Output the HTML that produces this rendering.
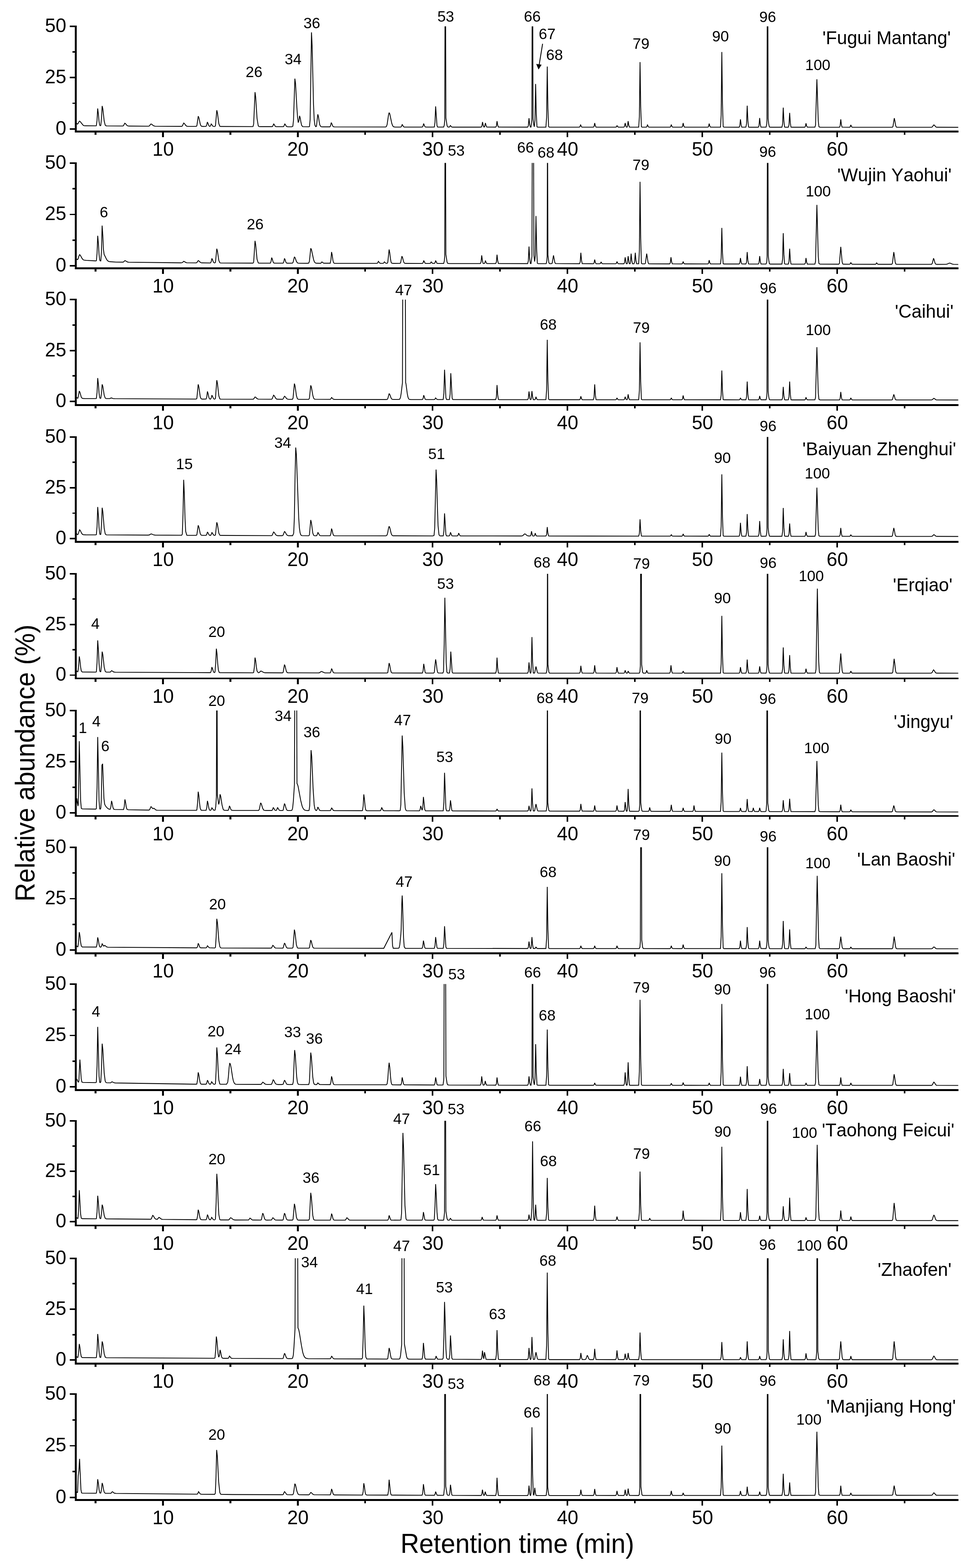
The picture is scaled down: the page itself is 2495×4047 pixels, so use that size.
<!DOCTYPE html><html><head><meta charset="utf-8"><style>html,body{margin:0;padding:0;background:#fff;overflow:hidden}svg{display:block}text{font-family:"Liberation Sans", Arial, sans-serif;fill:#000;font-kerning:none}</style></head><body>
<svg width="2495" height="4047" viewBox="0 0 2495 4047">
<rect width="2495" height="4047" fill="#fff"/>
<g stroke="#000" stroke-width="4.6" fill="none" shape-rendering="crispEdges">
<path d="M195.5 66.0 V341.5 M193.1 339.4 H2473"/>
<path d="M180.2 332.6H194M180.2 200.3H194M180.2 68.0H194" stroke-width="3.8"/>
<path d="M187.2 266.5H194M187.2 134.2H194" stroke-width="3.8"/>
<path d="M420.4 339.4V354.4M768.3 339.4V354.4M1116.2 339.4V354.4M1464.1 339.4V354.4M1812.0 339.4V354.4M2159.9 339.4V354.4M246.4 339.4V348.0M594.3 339.4V348.0M942.2 339.4V348.0M1290.2 339.4V348.0M1638.0 339.4V348.0M1985.9 339.4V348.0M2333.8 339.4V348.0" stroke-width="4.4"/>
<path d="M195.5 418.6 V694.4 M193.1 692.3 H2473"/>
<path d="M180.2 686.1H194M180.2 553.4H194M180.2 420.6H194" stroke-width="3.8"/>
<path d="M187.2 619.7H194M187.2 487.0H194" stroke-width="3.8"/>
<path d="M420.4 692.3V707.3M768.3 692.3V707.3M1116.2 692.3V707.3M1464.1 692.3V707.3M1812.0 692.3V707.3M2159.9 692.3V707.3M246.4 692.3V700.9M594.3 692.3V700.9M942.2 692.3V700.9M1290.2 692.3V700.9M1638.0 692.3V700.9M1985.9 692.3V700.9M2333.8 692.3V700.9" stroke-width="4.4"/>
<path d="M195.5 771.3 V1047.4 M193.1 1045.3 H2473"/>
<path d="M180.2 1035.9H194M180.2 904.6H194M180.2 773.3H194" stroke-width="3.8"/>
<path d="M187.2 970.2H194M187.2 839.0H194" stroke-width="3.8"/>
<path d="M420.4 1045.3V1060.3M768.3 1045.3V1060.3M1116.2 1045.3V1060.3M1464.1 1045.3V1060.3M1812.0 1045.3V1060.3M2159.9 1045.3V1060.3M246.4 1045.3V1053.9M594.3 1045.3V1053.9M942.2 1045.3V1053.9M1290.2 1045.3V1053.9M1638.0 1045.3V1053.9M1985.9 1045.3V1053.9M2333.8 1045.3V1053.9" stroke-width="4.4"/>
<path d="M195.5 1125.8 V1400.4 M193.1 1398.3 H2473"/>
<path d="M180.2 1390.0H194M180.2 1258.9H194M180.2 1127.8H194" stroke-width="3.8"/>
<path d="M187.2 1324.5H194M187.2 1193.3H194" stroke-width="3.8"/>
<path d="M420.4 1398.3V1413.3M768.3 1398.3V1413.3M1116.2 1398.3V1413.3M1464.1 1398.3V1413.3M1812.0 1398.3V1413.3M2159.9 1398.3V1413.3M246.4 1398.3V1406.9M594.3 1398.3V1406.9M942.2 1398.3V1406.9M1290.2 1398.3V1406.9M1638.0 1398.3V1406.9M1985.9 1398.3V1406.9M2333.8 1398.3V1406.9" stroke-width="4.4"/>
<path d="M195.5 1479.0 V1753.1 M193.1 1751.0 H2473"/>
<path d="M180.2 1742.4H194M180.2 1611.7H194M180.2 1481.0H194" stroke-width="3.8"/>
<path d="M187.2 1677.1H194M187.2 1546.3H194" stroke-width="3.8"/>
<path d="M420.4 1751.0V1766.0M768.3 1751.0V1766.0M1116.2 1751.0V1766.0M1464.1 1751.0V1766.0M1812.0 1751.0V1766.0M2159.9 1751.0V1766.0M246.4 1751.0V1759.6M594.3 1751.0V1759.6M942.2 1751.0V1759.6M1290.2 1751.0V1759.6M1638.0 1751.0V1759.6M1985.9 1751.0V1759.6M2333.8 1751.0V1759.6" stroke-width="4.4"/>
<path d="M195.5 1831.8 V2108.1 M193.1 2106.0 H2473"/>
<path d="M180.2 2098.3H194M180.2 1966.1H194M180.2 1833.8H194" stroke-width="3.8"/>
<path d="M187.2 2032.2H194M187.2 1899.9H194" stroke-width="3.8"/>
<path d="M420.4 2106.0V2121.0M768.3 2106.0V2121.0M1116.2 2106.0V2121.0M1464.1 2106.0V2121.0M1812.0 2106.0V2121.0M2159.9 2106.0V2121.0M246.4 2106.0V2114.6M594.3 2106.0V2114.6M942.2 2106.0V2114.6M1290.2 2106.0V2114.6M1638.0 2106.0V2114.6M1985.9 2106.0V2114.6M2333.8 2106.0V2114.6" stroke-width="4.4"/>
<path d="M195.5 2184.8 V2462.3 M193.1 2460.2 H2473"/>
<path d="M180.2 2452.0H194M180.2 2319.4H194M180.2 2186.8H194" stroke-width="3.8"/>
<path d="M187.2 2385.7H194M187.2 2253.1H194" stroke-width="3.8"/>
<path d="M420.4 2460.2V2475.2M768.3 2460.2V2475.2M1116.2 2460.2V2475.2M1464.1 2460.2V2475.2M1812.0 2460.2V2475.2M2159.9 2460.2V2475.2M246.4 2460.2V2468.8M594.3 2460.2V2468.8M942.2 2460.2V2468.8M1290.2 2460.2V2468.8M1638.0 2460.2V2468.8M1985.9 2460.2V2468.8M2333.8 2460.2V2468.8" stroke-width="4.4"/>
<path d="M195.5 2537.8 V2815.3 M193.1 2813.2 H2473"/>
<path d="M180.2 2805.0H194M180.2 2672.4H194M180.2 2539.8H194" stroke-width="3.8"/>
<path d="M187.2 2738.7H194M187.2 2606.1H194" stroke-width="3.8"/>
<path d="M420.4 2813.2V2828.2M768.3 2813.2V2828.2M1116.2 2813.2V2828.2M1464.1 2813.2V2828.2M1812.0 2813.2V2828.2M2159.9 2813.2V2828.2M246.4 2813.2V2821.8M594.3 2813.2V2821.8M942.2 2813.2V2821.8M1290.2 2813.2V2821.8M1638.0 2813.2V2821.8M1985.9 2813.2V2821.8M2333.8 2813.2V2821.8" stroke-width="4.4"/>
<path d="M195.5 2890.8 V3165.2 M193.1 3163.1 H2473"/>
<path d="M180.2 3153.2H194M180.2 3023.0H194M180.2 2892.8H194" stroke-width="3.8"/>
<path d="M187.2 3088.1H194M187.2 2957.9H194" stroke-width="3.8"/>
<path d="M420.4 3163.1V3178.1M768.3 3163.1V3178.1M1116.2 3163.1V3178.1M1464.1 3163.1V3178.1M1812.0 3163.1V3178.1M2159.9 3163.1V3178.1M246.4 3163.1V3171.7M594.3 3163.1V3171.7M942.2 3163.1V3171.7M1290.2 3163.1V3171.7M1638.0 3163.1V3171.7M1985.9 3163.1V3171.7M2333.8 3163.1V3171.7" stroke-width="4.4"/>
<path d="M195.5 3245.6 V3521.3 M193.1 3519.2 H2473"/>
<path d="M180.2 3510.3H194M180.2 3378.9H194M180.2 3247.6H194" stroke-width="3.8"/>
<path d="M187.2 3444.6H194M187.2 3313.3H194" stroke-width="3.8"/>
<path d="M420.4 3519.2V3534.2M768.3 3519.2V3534.2M1116.2 3519.2V3534.2M1464.1 3519.2V3534.2M1812.0 3519.2V3534.2M2159.9 3519.2V3534.2M246.4 3519.2V3527.8M594.3 3519.2V3527.8M942.2 3519.2V3527.8M1290.2 3519.2V3527.8M1638.0 3519.2V3527.8M1985.9 3519.2V3527.8M2333.8 3519.2V3527.8" stroke-width="4.4"/>
<path d="M195.5 3596.0 V3873.4 M193.1 3871.3 H2473"/>
<path d="M180.2 3865.0H194M180.2 3731.5H194M180.2 3598.0H194" stroke-width="3.8"/>
<path d="M187.2 3798.2H194M187.2 3664.8H194" stroke-width="3.8"/>
<path d="M420.4 3871.3V3886.3M768.3 3871.3V3886.3M1116.2 3871.3V3886.3M1464.1 3871.3V3886.3M1812.0 3871.3V3886.3M2159.9 3871.3V3886.3M246.4 3871.3V3879.9M594.3 3871.3V3879.9M942.2 3871.3V3879.9M1290.2 3871.3V3879.9M1638.0 3871.3V3879.9M1985.9 3871.3V3879.9M2333.8 3871.3V3879.9" stroke-width="4.4"/>
</g>
<g font-size="49.5">
<text x="171" y="347.5" text-anchor="end">0</text>
<text x="171" y="215.2" text-anchor="end">25</text>
<text x="171" y="82.9" text-anchor="end">50</text>
<text x="420.9" y="402.3" text-anchor="middle">10</text>
<text x="768.8" y="402.3" text-anchor="middle">20</text>
<text x="1116.7" y="402.3" text-anchor="middle">30</text>
<text x="1464.6" y="402.3" text-anchor="middle">40</text>
<text x="1812.5" y="402.3" text-anchor="middle">50</text>
<text x="2160.4" y="402.3" text-anchor="middle">60</text>
<text x="171" y="701.0" text-anchor="end">0</text>
<text x="171" y="568.2" text-anchor="end">25</text>
<text x="171" y="435.5" text-anchor="end">50</text>
<text x="420.9" y="755.2" text-anchor="middle">10</text>
<text x="768.8" y="755.2" text-anchor="middle">20</text>
<text x="1116.7" y="755.2" text-anchor="middle">30</text>
<text x="1464.6" y="755.2" text-anchor="middle">40</text>
<text x="1812.5" y="755.2" text-anchor="middle">50</text>
<text x="2160.4" y="755.2" text-anchor="middle">60</text>
<text x="171" y="1050.8" text-anchor="end">0</text>
<text x="171" y="919.5" text-anchor="end">25</text>
<text x="171" y="788.2" text-anchor="end">50</text>
<text x="420.9" y="1108.2" text-anchor="middle">10</text>
<text x="768.8" y="1108.2" text-anchor="middle">20</text>
<text x="1116.7" y="1108.2" text-anchor="middle">30</text>
<text x="1464.6" y="1108.2" text-anchor="middle">40</text>
<text x="1812.5" y="1108.2" text-anchor="middle">50</text>
<text x="2160.4" y="1108.2" text-anchor="middle">60</text>
<text x="171" y="1404.9" text-anchor="end">0</text>
<text x="171" y="1273.8" text-anchor="end">25</text>
<text x="171" y="1142.7" text-anchor="end">50</text>
<text x="420.9" y="1461.2" text-anchor="middle">10</text>
<text x="768.8" y="1461.2" text-anchor="middle">20</text>
<text x="1116.7" y="1461.2" text-anchor="middle">30</text>
<text x="1464.6" y="1461.2" text-anchor="middle">40</text>
<text x="1812.5" y="1461.2" text-anchor="middle">50</text>
<text x="2160.4" y="1461.2" text-anchor="middle">60</text>
<text x="171" y="1757.3" text-anchor="end">0</text>
<text x="171" y="1626.6" text-anchor="end">25</text>
<text x="171" y="1495.9" text-anchor="end">50</text>
<text x="420.9" y="1813.9" text-anchor="middle">10</text>
<text x="768.8" y="1813.9" text-anchor="middle">20</text>
<text x="1116.7" y="1813.9" text-anchor="middle">30</text>
<text x="1464.6" y="1813.9" text-anchor="middle">40</text>
<text x="1812.5" y="1813.9" text-anchor="middle">50</text>
<text x="2160.4" y="1813.9" text-anchor="middle">60</text>
<text x="171" y="2113.2" text-anchor="end">0</text>
<text x="171" y="1981.0" text-anchor="end">25</text>
<text x="171" y="1848.7" text-anchor="end">50</text>
<text x="420.9" y="2168.9" text-anchor="middle">10</text>
<text x="768.8" y="2168.9" text-anchor="middle">20</text>
<text x="1116.7" y="2168.9" text-anchor="middle">30</text>
<text x="1464.6" y="2168.9" text-anchor="middle">40</text>
<text x="1812.5" y="2168.9" text-anchor="middle">50</text>
<text x="2160.4" y="2168.9" text-anchor="middle">60</text>
<text x="171" y="2466.9" text-anchor="end">0</text>
<text x="171" y="2334.3" text-anchor="end">25</text>
<text x="171" y="2201.7" text-anchor="end">50</text>
<text x="420.9" y="2523.1" text-anchor="middle">10</text>
<text x="768.8" y="2523.1" text-anchor="middle">20</text>
<text x="1116.7" y="2523.1" text-anchor="middle">30</text>
<text x="1464.6" y="2523.1" text-anchor="middle">40</text>
<text x="1812.5" y="2523.1" text-anchor="middle">50</text>
<text x="2160.4" y="2523.1" text-anchor="middle">60</text>
<text x="171" y="2819.9" text-anchor="end">0</text>
<text x="171" y="2687.3" text-anchor="end">25</text>
<text x="171" y="2554.7" text-anchor="end">50</text>
<text x="420.9" y="2876.1" text-anchor="middle">10</text>
<text x="768.8" y="2876.1" text-anchor="middle">20</text>
<text x="1116.7" y="2876.1" text-anchor="middle">30</text>
<text x="1464.6" y="2876.1" text-anchor="middle">40</text>
<text x="1812.5" y="2876.1" text-anchor="middle">50</text>
<text x="2160.4" y="2876.1" text-anchor="middle">60</text>
<text x="171" y="3168.1" text-anchor="end">0</text>
<text x="171" y="3037.9" text-anchor="end">25</text>
<text x="171" y="2907.7" text-anchor="end">50</text>
<text x="420.9" y="3226.0" text-anchor="middle">10</text>
<text x="768.8" y="3226.0" text-anchor="middle">20</text>
<text x="1116.7" y="3226.0" text-anchor="middle">30</text>
<text x="1464.6" y="3226.0" text-anchor="middle">40</text>
<text x="1812.5" y="3226.0" text-anchor="middle">50</text>
<text x="2160.4" y="3226.0" text-anchor="middle">60</text>
<text x="171" y="3525.2" text-anchor="end">0</text>
<text x="171" y="3393.8" text-anchor="end">25</text>
<text x="171" y="3262.5" text-anchor="end">50</text>
<text x="420.9" y="3582.1" text-anchor="middle">10</text>
<text x="768.8" y="3582.1" text-anchor="middle">20</text>
<text x="1116.7" y="3582.1" text-anchor="middle">30</text>
<text x="1464.6" y="3582.1" text-anchor="middle">40</text>
<text x="1812.5" y="3582.1" text-anchor="middle">50</text>
<text x="2160.4" y="3582.1" text-anchor="middle">60</text>
<text x="171" y="3879.9" text-anchor="end">0</text>
<text x="171" y="3746.4" text-anchor="end">25</text>
<text x="171" y="3612.9" text-anchor="end">50</text>
<text x="420.9" y="3934.2" text-anchor="middle">10</text>
<text x="768.8" y="3934.2" text-anchor="middle">20</text>
<text x="1116.7" y="3934.2" text-anchor="middle">30</text>
<text x="1464.6" y="3934.2" text-anchor="middle">40</text>
<text x="1812.5" y="3934.2" text-anchor="middle">50</text>
<text x="2160.4" y="3934.2" text-anchor="middle">60</text>
</g>
<g stroke="#000" stroke-width="2.1" fill="none" stroke-linejoin="miter" stroke-miterlimit="2">
<clipPath id="c0"><rect x="0" y="68.0" width="2495" height="400"/></clipPath>
<path clip-path="url(#c0)" d="M196.5 317.0l3.3 3.3l1.7 -1.4l1.8 -3.9l1.7 -2.4l1.7 1l7.2 8.9l1.7 1.5l1.8 .5l3.5 .1l25.9 .2l1.7 -.3l1.8 -13.1l1.7 -31.4l1.7 12.8l1.8 20.3l1.7 9.6l1.2 1.7l1.7 -.6l1.8 -18.7l1.7 -31.6l1.7 7.3l3.5 31.2l2.5 10.5l1.8 2l1.7 .5l42 .3l1.7 -.9l3.5 -6.4l1.7 1l3.5 4.3l1.5 1.2l3.5 .9l50.5 .4l1.6 -.2l1.7 -1.2l1.8 -2.7l1.7 -1.7l1.7 .6l5.4 4.2l3.5 1l68.7 .3l1.7 -1.1l3.5 -7.4l1.7 1.1l3.5 5l2.7 2l3.4 .6l21 0l1.7 -2l3.5 -24.3l1.7 3.9l3.5 16.2l1.7 4.2l1.7 1.6l3.5 .5l7.9 -.1l1.8 -3.3l1.7 -8l1.7 3.3l1.8 5.2l1.3 2l1.7 .8l1.8 -1.8l1.7 -4.5l1.7 1.8l1.8 3l1.7 1.4l4 .3l1.7 -1.9l3.5 -40l1.7 7.4l3.5 27.2l2.5 6.4l1.8 .8l81.7 .4l2.2 -.2l1.7 -6.7l3.5 -82.1l1.7 13.1l3.5 54.8l3.1 18.8l1.7 2l3.5 .4l31 0l1.8 -2.1l1.7 -5.3l1.7 2.1l1.8 3.5l1.7 1.6l2.1 .3l17.9 0l1.8 -2.2l1.7 -5.3l1.7 2.2l1.8 3.4l1.7 1.7l3 .3l10.4 .1l2.3 -1.5l1.7 -15.7l3.5 -107l1.7 12.1l3.5 62.6l1.8 25.5l1.7 13.2l1.8 -4.9l1.7 -12.5l1.7 5.9l1.8 10.7l1.7 7.7l2.9 3.7l15.7 .3l1.7 -.8l1.7 -18.1l3.5 -224.8l1.7 36l3.5 149.8l1.8 39.8l1.8 13.9l2.3 3.9l1.7 -1.1l3.5 -30.9l1.7 6.2l1.8 12.4l1.7 9.1l2.9 4.4l3.5 .3l19.6 0l1.8 -3.2l1.7 -7.7l1.7 3.1l1.8 5l1.7 2.4l3 .5l132.3 .2l1.7 -1.2l1.9 -5l3.5 -24.2l1.7 -6.5l1.7 3.1l5.1 24.2l1.8 5.2l1.7 2.9l1.7 1.2l3.5 .6l14.7 0l1.8 -1.8l1.7 -5.2l3.5 6l1.7 .9l46.6 .1l1.8 -2.1l1.7 -6.9l3.5 8.1l1.7 .9l22.3 -.1l1.8 -11.7l1.7 -41.6l3.5 49.3l1.7 4l15.6 .1l1.7 -6.1l1 -13.3l.7 -260.6l1.6 0l.7 256.7l3 19.4l1.7 3.5l3.3 .5l1.8 -.9l1.7 -3.2l3.5 3.8l1.7 .3l74.3 0l1.8 -2.4l1.7 -10.7l1.7 8.1l1.8 4.7l1.7 -.2l2.3 -10l1.7 6.6l1.8 3.7l22.9 .2l1.8 -2.6l1.7 -12.9l1.7 10.3l1.8 5l75.5 .2l1.8 -3.7l1.7 -19.4l1.7 16l1.8 6.9l1.7 .1l2.2 -18.4l.7 -261.6l1.6 0l.7 257.8l1.5 13.9l1.7 7.6l1.8 -17.1l1.7 -93.5l1.7 76.9l1.8 33.5l1.7 1.1l21.3 -.1l1.8 -25.1l1.7 -131.2l1.7 107.8l1.8 47.1l1.7 1.5l77.3 0l1.8 -1.1l1.7 -5.6l1.7 4.6l1.8 2l29.4 .1l1.8 -1.7l1.7 -8.9l1.7 7.3l1.8 3.2l50.6 .1l1.8 -.6l1.7 -3.6l1.7 2.9l1.8 1.3l14 0l1.8 -1.7l1.7 -8.9l2.5 9.7l1 .9l.7 0l1 -.3l.8 -2.2l1.7 -13.1l1.7 10.8l1.8 4.7l23.7 .1l1.8 -26.9l1.7 -141l1.7 115.8l1.8 50.6l1.7 1.6l10.5 0l1.8 -1.1l1.7 -5.7l1.7 4.7l1.8 2l54.4 .1l1.8 -1.1l1.7 -5.7l1.7 4.7l1.8 2l23.6 .1l1.8 -1.7l1.7 -9l1.7 7.4l1.8 3.2l60.2 .1l1.8 -1.5l1.7 -7.8l1.7 6.4l1.8 2.9l25.6 -.1l1.8 -31l1.7 -162.9l1.7 133.8l1.8 58.5l1.7 1.7l39.4 .1l1.8 -3.3l1.7 -17.1l1.7 14l1.8 6.2l10.4 .1l1.8 -8.9l1.7 -46.6l1.7 38.3l1.8 16.8l1.7 .5l23.4 0l1.8 -3.8l1.7 -19.9l1.7 16.3l1.8 7.2l13 .1l1.8 -8.4l.6 -10.1l.7 -261.8l1.6 0l.7 258l1.6 14.8l1.7 7l1.8 .6l30.4 0l1.8 -8.1l1.7 -42.5l1.7 34.9l1.8 15.2l1.7 .5l7.8 0l1.8 -5.9l1.7 -31.1l1.7 25.5l1.8 11.2l1.7 .3l33.5 0l1.8 -1.6l1.7 -8.5l1.7 7l1.8 3l19.4 0l1.7 -5.5l3.5 -118.2l3.5 106.7l1.7 15.7l2.8 1.5l50.1 0l1.8 -3.3l1.7 -17.2l1.7 14.1l1.8 6.2l19 .2l1.8 -1l1.7 -5.1l1.7 4.2l1.8 1.8l103.4 .1l1.7 -1.8l3.5 -21.7l1.7 7.9l1.8 11l1.7 4l1.5 .6l88.7 0l1.5 -.2l1.7 -1.3l1.8 -2.8l1.7 -1.8l1.7 1.2l3.5 4.1l2 .7l55.7 .2"/>
<clipPath id="c1"><rect x="0" y="420.6" width="2495" height="400"/></clipPath>
<path clip-path="url(#c1)" d="M196.5 668.0l3.6 2.1l1.7 -2.8l1.8 -6.1l1.7 -3.9l1.7 1.2l5.2 9.3l1.7 2l1.7 1.1l1.8 .6l5.2 .5l24.3 1.4l1.7 -.4l1.8 -18.9l1.7 -45.5l1.7 18.6l1.8 29.6l1.7 14l1.1 2.4l1.7 .1l1.7 -23.3l1.7 -67.8l1.8 25.5l1.7 37.3l1.7 11.6l6.1 12.4l1.7 2.6l1.8 1.8l1.7 1.1l3.5 .9l15.7 1.1l17.9 .1l1.7 -.5l3.5 -3.5l1.7 .6l3.5 2.4l3 1l1.7 .2l134 1.6l2.5 -.1l1.7 -.4l3.5 -3.4l1.7 .5l3.5 2.3l2.8 .9l22.6 .3l1.7 0l1.7 -.8l3.5 -5.1l1.7 .8l3.5 3.4l1.8 1.1l1.7 .5l21.4 .3l1.7 -.1l1.8 -3.4l1.7 -8.3l1.7 3.4l1.8 5.3l1.7 2.5l2.3 .6l1.7 -1.6l3.5 -35.2l1.7 6.5l3.5 23.9l2.5 5.7l1.8 .7l83.9 .4l1.7 -2.6l3.5 -54.9l1.7 10.1l3.5 37.3l3.1 9.5l1.7 .6l29.5 .1l1.8 -4.2l1.7 -10l1.7 4.1l1.8 6.5l1.7 3l1.9 .7l22.4 0l1.8 -3.6l1.7 -8.8l1.7 3.6l1.8 5.7l1.7 2.6l1.9 .6l13.3 -.1l1.7 -2.1l3.5 -14.2l1.7 2.1l3.5 9.6l2.4 3.6l1.8 .9l3.4 .3l20.9 .1l3.3 -.5l1.7 -4.9l3.5 -33.4l1.7 3l5.5 25.7l1.7 5.2l1.8 2.9l1.7 1.3l1.7 .5l11.1 .2l1.8 -1.1l1.7 -2.5l3.5 2.7l1.7 .7l16.3 0l1.8 -8.5l1.7 -20.5l1.7 8.3l1.8 13.3l1.7 6.2l2.2 1.4l109.9 .2l1.8 -1.4l1.7 -3.9l3.5 4.3l1.7 .9l6.7 .1l1.8 -1l1.7 -2.8l3.5 3.2l1.7 .6l1.9 -.1l1.7 -2.6l3.5 -33.2l1.7 8.9l1.8 15.5l1.7 8.8l1.6 2.3l3.5 .5l17.5 -.1l1.7 -1.4l3.5 -17.3l1.7 3.8l1.8 7.4l1.7 5.2l1.7 1.9l1.7 .5l44.2 .1l1.8 -1.7l1.7 -5.7l3.5 6.7l1.7 .7l10.5 0l1.8 -.9l1.7 -3.1l3.5 3.7l4.5 .3l1.8 -1.6l1.7 -5.8l3.5 6.9l1.7 .5l15.6 0l1.7 -7.1l.9 -12.3l.7 -260l1.6 0l.7 256.1l3.1 19.8l1.7 3.2l3.5 .4l80.7 .1l1.8 -3.8l1.7 -17.2l1.7 12.9l1.8 7.7l.9 .4l1.7 0l1.8 -1.3l1.7 -6.3l1.7 4.8l1.8 2.7l22.9 .2l1.8 -3.9l1.7 -19.1l1.7 15.3l1.8 7.4l1.7 .3l73.8 .1l1.8 -7.1l1.7 -37.1l1.7 30.5l1.8 13.3l1.7 .3l2.4 -18.5l.7 -261.2l3.6 0l.7 257.5l1.9 17.1l1.8 -14.8l1.7 -102.9l1.7 84.8l1.8 37l1.7 1.2l21.2 -.1l1.7 -7.8l.7 -10.7l.7 -261.3l.6 0l.7 257.6l2.5 20.1l1.8 2.1l4.9 .1l1.7 -.9l3.5 -20.4l3.5 18.4l1.7 2.7l61.9 .3l1.8 -4.5l1.7 -23.8l1.7 19.6l1.8 8.5l28.7 .3l1.8 -1.7l1.7 -9l1.7 7.4l1.8 3.2l9.5 .2l1.8 -.8l1.7 -4l1.7 3.3l1.8 1.4l34 .1l1.8 -.9l1.7 -4.9l1.7 4l1.8 1.8l14.1 .1l1.8 -2.7l1.7 -14l2.5 15.1l1 1.4l.7 .2l1 -.5l.8 -2.7l1.7 -16.6l2.5 18l1 1.6l.7 .2l1 -.6l.8 -3.6l1.7 -22.1l1.7 18.2l1.8 7.9l3.7 .2l1.8 -4.6l1.7 -24l1.7 19.8l1.8 8.6l5.3 .1l1.8 -33.9l1.7 -177.6l1.7 146l1.8 63.7l1.7 2l6.8 0l1.7 -1.2l3.5 -25.2l3.5 22.7l1.7 3.4l1.7 .3l52.2 .1l1.8 -2.8l1.7 -14.5l1.7 11.9l1.8 5.3l24.4 .2l1.8 -1l1.7 -5.2l1.7 4.3l1.8 1.8l60.2 .2l1.8 -1.6l1.7 -8.2l1.7 6.8l1.8 2.9l25.6 .1l1.8 -14.9l1.7 -78.2l1.7 64.2l1.8 28.1l1.7 .9l39.4 0l1.8 -2.5l1.7 -13l1.7 10.7l1.8 4.7l10.4 .1l1.8 -4.9l1.7 -25.9l1.7 21.3l1.8 9.3l1.7 .3l23.5 0l1.8 -3.3l1.7 -17.2l1.7 14.2l1.8 6.2l12.9 .1l1.8 -4.9l.9 -13.6l.7 -262.4l1.6 0l.7 258.6l1.3 12.2l1.7 9.1l1.8 1.1l30.4 0l1.8 -12.8l1.7 -67l1.7 55.1l1.8 24l1.7 .8l7.8 -.1l1.8 -6.3l1.7 -33.4l1.7 27.4l1.8 12l1.7 .4l33.5 0l1.8 -2.5l1.7 -13.3l1.7 10.9l1.8 4.8l19.4 .1l1.7 -6.9l3.5 -146.1l3.5 131.9l1.7 19.4l2.8 1.8l48.4 .1l1.7 -2l3.5 -42.9l3.5 38.7l1.7 5.7l2.1 .5l15.2 .1l1.8 -.7l1.7 -3.8l1.7 3.1l1.8 1.3l59.6 .2l1.8 -.7l1.7 -3.4l1.7 2.8l1.8 1.3l35.5 0l1.7 -2.4l3.5 -29.1l1.7 10.6l1.8 14.8l1.7 5.4l2.8 .8l89.4 0l1.7 -2l3.5 -13.5l1.7 4.3l1.8 7l1.7 3.5l2.8 .9l24.4 -.1l3.7 -1l3.5 -1.9l1.7 -.4l1.7 .3l5.1 2.1l3.4 .9l12.2 .2"/>
<clipPath id="c2"><rect x="0" y="773.3" width="2495" height="400"/></clipPath>
<path clip-path="url(#c2)" d="M196.5 1024.0l2.9 3.7l1.7 -.1l3.5 -18.3l1.7 3.4l3.5 12.5l2.4 2.9l1.7 .4l3.5 .1l29.5 .1l1.7 -.4l1.8 -15.4l1.7 -37l1.7 15l1.8 24l1.7 11.3l1.1 1.9l1.7 -.2l1.8 -13.3l1.7 -22.6l1.7 5.2l3.5 22.3l2.5 7.5l1.8 1.5l1.7 .3l8.7 0l3.5 -1.8l5.2 1.7l3.5 .3l210.5 1l1.7 -1.7l3.5 -36.3l1.7 6.7l3.5 24.7l1.8 5l1.7 1.4l1.8 .3l9.8 -.1l1.8 -5.7l1.7 -13.9l1.7 5.6l1.8 9l1.7 4.2l1.1 .8l1.7 .1l1.8 -2.9l1.7 -7.2l1.7 2.9l1.8 4.7l1.7 2.2l2.3 .4l1.7 -2.2l3.5 -46.7l1.7 8.6l3.5 31.8l2.5 7.5l1.8 1l83.9 .3l1.7 -.8l3.5 -5.1l1.7 .8l3.5 3.4l3.1 1.5l34.4 .2l1.7 -1.3l3.5 -9.2l1.7 1.4l3.5 6.2l2.2 2.2l1.7 .6l13.8 .2l1.7 -1l3.5 -6.9l1.7 1l3.5 4.7l1.9 1.5l3.5 .8l9.8 -.1l1.7 -3l3.5 -37.5l1.7 6l3.5 25l2.4 7.7l1.8 1.5l1.7 .4l25.9 0l1.7 -2.7l3.5 -33.3l1.7 4.5l3.5 20.6l2 7.2l1.7 2.7l1.8 .8l39.5 .3l1.8 -1.4l1.7 -3.4l1.7 1.4l1.8 2.2l1.7 1l2.2 .3l134 .2l1.9 -.2l1.7 -1.9l3.5 -13.2l1.7 2.3l3.5 9.5l1.6 2.3l1.8 .9l1.7 .2l15.7 -.1l1.7 -1.2l1.7 -4.4l1.8 -11.1l3.2 -26.7l.7 -234.2l6.8 0l.7 233.8l.8 3.1l3.4 25.7l1.8 9l1.7 4.3l1.8 1.5l3.4 .4l30.3 .1l1.8 -2.6l1.7 -8.6l3.5 10.1l1.7 1.1l22 0l1.8 -.9l1.7 -3.3l3.5 3.9l1.7 .3l14.3 -.1l1.8 -16.2l1.7 -60.5l3.5 72l1.7 4.7l7.4 .1l1.8 -14.1l1.7 -53.9l3.5 64.4l1.7 3.6l110.6 .2l1.8 -6.2l1.7 -31.3l1.7 25l1.8 12.1l1.7 .5l73.8 0l1.8 -3.4l1.7 -17.7l2.4 18.8l1.1 2.2l.6 .1l1.1 -.7l.7 -2.8l1.7 -18.7l1.7 15.3l1.8 6.8l3.4 .2l1.8 -1.3l1.7 -6.3l1.7 5.2l1.8 2.3l22.1 0l1.8 -24.8l1.7 -129.8l1.7 106.7l1.8 46.6l1.7 1.4l78 0l1.8 -1.4l1.7 -7.5l1.7 6.2l1.8 2.7l28.7 .1l1.8 -6.4l1.7 -33.3l1.7 27.4l1.8 11.9l1.7 .4l48.8 0l1.8 -.7l1.7 -4l1.7 3.3l1.8 1.4l14.1 0l1.8 -1.2l1.7 -6.5l2.5 7l1.7 .7l1 -.3l.8 -1.9l1.7 -11.8l1.7 9.7l1.8 4.2l23.7 .1l1.8 -23.8l1.7 -124.4l1.7 102.3l1.8 44.6l1.7 1.4l71.9 0l1.8 -.7l1.7 -4.1l1.7 3.3l1.8 1.5l23.6 0l1.8 -1.7l1.7 -9.3l1.7 7.6l1.8 3.4l92.8 .1l1.8 -12.1l1.7 -63.5l1.7 52.2l1.8 22.7l1.7 .7l39.4 .1l1.8 -.8l1.7 -4.2l1.7 3.4l1.8 1.5l10.4 0l1.8 -7.5l1.7 -39.6l1.7 32.5l1.8 14.2l1.7 .5l23.5 0l1.8 -1.6l1.7 -8.4l1.7 6.9l1.8 3l12.9 0l1.8 -8.3l.6 -10.2l.7 -260.1l1.6 0l.7 256.4l1.6 14.7l1.7 7l1.8 .6l30.4 0l1.8 -5.3l1.7 -28.2l1.7 23.1l1.8 10.1l1.7 .4l7.8 -.1l1.8 -7.5l1.7 -39.7l1.7 32.6l1.8 14.2l1.7 .5l33.5 0l1.8 -1.1l1.7 -5.6l1.7 4.6l1.8 2l19.4 0l1.7 -6.1l3.5 -129.9l3.5 117.3l1.7 17.2l2.8 1.6l50.1 .1l1.8 -3.3l1.7 -17.2l1.7 14.1l1.8 6.2l1.7 .2l17.3 0l1.8 -.8l1.7 -4.4l1.7 3.6l1.8 1.5l102.1 .1l1.7 -1l3.5 -13.3l1.7 4.8l1.8 6.8l1.7 2.4l2.8 .4l88.7 0l1.5 -.2l1.7 -.9l1.8 -1.9l1.7 -1.3l1.7 .9l3.5 2.9l2 .5l55.7 .1"/>
<clipPath id="c3"><rect x="0" y="1127.8" width="2495" height="400"/></clipPath>
<path clip-path="url(#c3)" d="M196.5 1376.0l3.6 4.1l1.7 -1.6l3.5 -11.2l1.7 1.5l3.5 7.3l1.7 2.3l1.7 1.3l1.7 .5l5.3 .2l26 .1l1.7 -.6l1.8 -20.9l1.7 -50.4l1.7 20.5l1.8 32.6l1.7 15.3l1.1 2.6l1.7 -.6l1.8 -25.4l1.7 -43.1l1.7 9.9l3.5 42.5l2.5 14.2l1.8 2.8l1.7 .6l107.9 .6l3.3 -.7l3.5 -2.4l1.7 .3l5.4 2.3l3.5 .5l68.6 .4l1.7 -3.1l1.8 -52l1.7 -88l1.7 36.5l1.8 62.6l1.7 34l2.8 9.8l1.7 .3l22.6 .1l1.7 -1.2l3.5 -24.7l1.7 4.6l3.5 16.8l1.8 3.4l1.7 1l1.8 .2l9.8 0l1.8 -2.6l1.7 -6.2l1.7 2.5l1.8 4l1.7 1.9l2.8 .4l1.8 -2.3l1.7 -5.5l1.7 2.3l1.8 3.5l1.7 1.7l2.3 .4l1.7 -1.5l3.5 -32.3l1.7 6l3.5 21.9l2.5 5.2l1.8 .7l131.8 .6l1.7 -1.2l3.5 -8.3l1.7 1.2l3.5 5.6l2.2 2l3.5 .8l10.4 0l1.6 -.1l1.7 -1.3l3.5 -9.3l1.7 1.4l3.5 6.2l1.9 2.1l1.8 .7l1.7 .3l10.4 0l2.8 -6.5l1.7 -40.5l1.8 -106.4l1.7 -74.1l1.7 17.8l6 163.6l1.7 25.5l1.8 12.8l1.7 5.3l1.8 1.9l1.7 .5l17.2 .2l1.7 -1.8l3.5 -38.9l1.7 7.2l3.5 26.4l2 5.6l1.7 1.3l1.8 .2l4.2 0l1.8 -2.6l1.7 -6.1l1.7 2.5l1.8 4l1.7 1.8l2.7 .5l23.9 -.1l1.8 -5.5l1.7 -13l1.7 5.3l1.8 8.4l1.7 4l2.2 .9l132.3 .2l1.7 -.4l1.9 -2.1l1.7 -6.5l1.8 -10.1l1.7 -5.5l1.7 3.4l3.5 14.8l1.6 3.9l1.8 1.9l1.7 .5l102.7 .3l2.9 -1.4l1.7 -18.7l3.5 -151.2l1.7 32.4l1.8 64.8l1.7 48.1l2.3 22.6l1.8 2.9l1.7 .4l7.4 0l1.8 -12.3l1.7 -45.7l3.5 54.4l1.7 3.6l6.6 .1l1.8 -1.9l1.7 -7.3l3.5 8.7l1.7 .5l12.4 0l1.8 -1.4l1.7 -5.8l3.5 6.9l1.7 .3l156.3 .2l1.7 -.1l2.2 -.8l3.5 -3.5l1.7 -1l1.7 .6l3.5 3.1l3.1 1.4l5.6 .4l1.8 -2l1.7 -10.4l1.7 8.5l1.8 3.8l2.6 .1l1.8 -1.2l1.7 -6.3l1.7 5.2l1.8 2.2l24 .1l1.8 -3.7l1.7 -19.4l1.7 15.9l1.8 7l1.7 .2l230.7 .2l1.8 -6.9l1.7 -36.4l1.7 29.9l1.8 13.1l1.7 .4l71.9 0l1.8 -.6l1.7 -3.2l1.7 2.7l1.8 1.1l23.6 .1l1.8 -1l1.7 -4.9l1.7 4.1l1.8 1.7l60.2 .1l1.8 -.8l1.7 -4.1l1.7 3.4l1.8 1.5l25.6 0l1.8 -25.6l1.7 -134.1l1.7 110.2l1.8 48.1l1.7 1.5l39.4 0l1.8 -5.5l1.7 -29.1l1.7 23.9l1.8 10.4l1.7 .3l8.7 0l1.8 -9.2l1.7 -48.1l1.7 39.5l1.8 17.3l1.7 .5l23.5 0l1.8 -6.2l1.7 -32.9l1.7 27l1.8 11.8l1.7 .4l11.2 -.1l1.8 -8.4l.6 -10.1l.7 -257.7l1.6 0l.7 253.9l1.6 14.8l1.7 7l1.8 .6l30.4 0l1.8 -11.7l1.7 -61.4l1.7 50.4l1.8 22.1l1.7 .6l7.8 0l1.8 -5.3l1.7 -27.7l1.7 22.8l1.8 10l1.7 .3l33.5 0l1.8 -1.8l1.7 -9.4l1.7 7.7l1.8 3.4l19.4 0l1.7 -5.6l3.5 -120l3.5 108.3l1.7 16l2.8 1.4l50.1 .1l1.8 -3.5l1.7 -18.2l1.7 15l1.8 6.5l19 .2l1.8 -.7l1.7 -3.6l1.7 3l1.8 1.3l102.1 .1l1.7 -1.7l3.5 -20.1l1.7 7.3l1.8 10.3l1.7 3.7l2.8 .5l88.7 .1l1.5 -.2l1.7 -.9l1.8 -2.1l1.7 -1.3l1.7 .9l3.5 3l2 .5l55.7 .2"/>
<clipPath id="c4"><rect x="0" y="1481.0" width="2495" height="400"/></clipPath>
<path clip-path="url(#c4)" d="M196.5 1730.0l2.9 3.7l1.7 -.1l1.8 -14.6l1.7 -24.8l1.7 10.3l1.8 17.6l1.7 9.6l2.4 2.7l34.7 .3l1.7 -.6l1.8 -23.9l1.7 -57.4l1.7 23.3l1.8 37.1l1.7 17.5l1.1 3l1.7 -.1l1.8 -19.2l1.7 -32.5l1.7 7.5l3.5 32l2.5 10.8l1.8 2.1l1.7 .5l9.7 -.1l3.5 -3.7l1.7 .8l3.5 2.6l4.2 .6l244.1 1.1l1.7 -.1l1.8 -4.2l1.7 -10l1.7 4.1l1.8 6.5l1.7 3.1l1.1 .5l1.7 -1.2l1.8 -22.5l1.7 -38.1l1.7 13.2l1.8 24.9l1.7 16.7l2 6.2l1.7 .9l85.7 .4l1.7 -.9l1.8 -14.3l1.7 -24.1l1.7 8.3l1.8 15.9l1.7 10.5l3.1 4.4l1.5 0l1.7 -.9l1.8 -2.1l1.7 -1.3l1.7 .4l5.5 3.2l3.5 .8l45.1 .2l1.7 -1l3.5 -20.3l1.7 4.1l1.8 8.2l1.7 5.9l1.9 2.5l1.8 .5l78.3 .2l2.2 -.1l1.7 -.8l3.5 -2.8l1.7 .3l6.5 3l1.8 .3l13.4 .1l1.8 -3.3l1.7 -7.8l1.7 3.2l1.8 5.1l1.7 2.4l2.2 .5l135.9 .2l1.7 -1.1l3.5 -24.5l1.7 5.8l1.8 10.7l1.7 6.6l1.6 2.1l1.8 .4l77.2 .1l1.8 -5.5l1.7 -18.2l3.5 21.4l1.7 2.3l20.3 .1l1.7 -1.6l3.5 -33.7l1.7 9.9l1.8 15.9l1.7 7.7l1.7 1.6l11.7 .2l1.7 -4.2l1.8 -70.7l1.7 -119.6l3.5 166.8l1.7 25.3l2.2 2.4l4.4 0l1.8 -11.4l1.7 -43.9l3.5 52.3l1.7 3l110.6 .2l1.8 -6.6l1.7 -33.6l1.7 26.8l1.8 13l1.7 .5l73.8 0l1.8 -4.5l1.7 -23.5l2.4 24.9l1.1 2.8l.6 .2l1.1 -2.9l.7 -12l1.7 -78.2l1.7 64.3l1.8 28l1.7 .9l1.7 -.8l3.5 -16.4l3.5 14.8l1.7 2.2l21.2 .2l1.7 -6.7l.8 -11.9l.7 -257.9l.6 0l.7 254.1l2.4 19.8l1.8 2.5l77.2 .1l1.8 -3.1l1.7 -16.1l1.7 13.2l1.8 5.8l28.7 .2l1.8 -3.3l1.7 -17l1.7 14l1.8 6.1l50.5 .2l1.8 -2.5l1.7 -13.2l1.7 10.8l1.8 4.8l14.1 .1l1.8 -1.2l1.7 -6.3l2.5 6.8l1 .6l1.7 0l.8 -.8l1.7 -4.6l1.7 3.8l1.8 1.6l25.2 .1l1.7 -3.9l1.1 -14.7l.7 -257.9l2 0l.7 254.1l2.5 20l1.7 2.3l5.3 .1l1.8 -1.2l1.7 -6.3l1.7 5.2l1.8 2.2l55.6 .1l1.8 -3.3l1.7 -17l1.7 14l1.8 6.1l24.4 .2l1.8 -.9l1.7 -4.6l1.7 3.8l1.8 1.6l92.8 0l1.8 -23.7l1.7 -124.2l1.7 102.1l1.8 44.5l1.7 1.4l39.4 0l1.8 -2.5l1.7 -13.2l1.7 10.8l1.8 4.8l10.4 .1l1.8 -5.6l1.7 -29.5l1.7 24.2l1.8 10.6l1.7 .3l23.5 0l1.8 -2.8l1.7 -14.9l1.7 12.2l1.8 5.3l12.9 .1l1.8 -8.4l.6 -10.1l.7 -257.9l1.6 0l.7 254.1l1.6 14.8l1.7 7l1.8 .6l30.4 0l1.8 -10.7l1.7 -55.8l1.7 45.9l1.8 20l1.7 .6l7.8 0l1.8 -7.5l1.7 -39.2l1.7 32.2l1.8 14.1l1.7 .4l33.5 0l1.8 -1.8l1.7 -9.7l1.7 7.9l1.8 3.5l20.6 -.1l1.7 -9.7l3.5 -208.3l3.5 188l1.7 27.6l1.6 2.5l48.4 .1l1.7 -2.3l3.5 -48.5l3.5 43.8l1.7 6.4l2.1 .6l15.2 0l1.8 -.9l1.7 -4.6l1.7 3.8l1.8 1.6l103 0l1.7 -2.8l3.5 -34.3l1.7 12.5l1.8 17.4l1.7 6.4l1.9 .9l87 0l2.4 -.4l1.7 -1.8l1.8 -3.9l1.7 -2.5l1.7 1.7l3.5 5.7l2.8 1.1l55.7 .1"/>
<clipPath id="c5"><rect x="0" y="1833.8" width="2495" height="400"/></clipPath>
<path clip-path="url(#c5)" d="M196.7 2080.3l1.7 -19.7l2.7 19.7l.8 -4.2l1 -41.3l1.7 -121.9l3.5 154.3l1.7 19.1l2.4 1.4l34.7 .7l1.7 -1.5l1.8 -54.2l1.7 -130.5l3.5 164.6l1.7 20.3l1.1 1.3l1.7 -2.6l1.2 -20.3l1.7 -90.8l1.8 -3.3l3.4 89.6l1.8 14.2l1.7 4.1l3.1 4.1l3.5 3.3l1.7 1l2.6 .9l1.7 .1l1.8 -6.3l1.7 -15.4l1.7 6.4l1.8 10l1.7 4.8l2.7 1.1l23.1 .2l1.8 -7.6l1.7 -18.6l1.7 7.6l1.8 12l1.7 5.7l3 1.4l53.8 .9l1.7 -1.1l3.5 -7.8l1.7 1.2l1.8 2.6l1.7 1.5l2.3 -1.3l5.2 4.6l3.1 .7l100.9 .2l1.7 -1l1.8 -17.6l1.7 -29.6l1.7 10.2l1.8 19.5l1.7 12.9l1.8 4.6l1.7 .9l1.8 .1l9.8 -.1l1.8 -7.1l1.7 -17.2l1.7 7l1.8 11.1l1.7 5.2l1.1 .9l1.7 .2l1.8 -1.9l1.7 -4.6l1.7 1.9l1.8 3l1.7 1.4l3 -.3l1.8 -9.5l1.6 -25.2l.7 -242.5l1.2 0l.7 239.1l3.4 23.3l1.8 -7.8l1.7 -18.4l1.7 5.6l3.5 22.7l2.8 10.4l1.8 2.1l1.7 .7l9.2 .1l1.8 -3.4l1.7 -8.2l1.7 3.3l1.8 5.3l1.7 2.5l3 .6l67.1 -.1l1.7 -2.5l3.5 -17l1.7 2.5l3.5 11.5l2.5 4.5l1.8 .9l3.4 .4l16.1 0l1.8 -2.3l1.7 -5.6l1.7 2.3l1.8 3.6l1.7 1.7l2.3 .3l1.8 -2.3l1.7 -5.6l1.7 2.3l1.8 3.6l1.7 1.7l2.5 .4l5.1 0l1.7 -.8l3.5 -17.2l1.7 3.5l1.8 6.9l1.7 5l1.9 2.1l1.8 .5l8.7 -.1l1.7 -.9l1.7 -5.3l1.8 -17.1l2.9 -43.7l.7 -211.1l5.2 0l.7 208.6l.9 1.4l1.8 5.2l6.9 37l3.5 14.1l1.7 4.5l1.8 3.1l1.7 2l1.8 1.1l1.7 .7l3.5 .5l3.5 .1l2.3 -.5l1.7 -11.6l3.5 -144l1.7 16.4l3.5 82.2l2.9 43.6l1.8 9.5l2.3 3.8l1.7 .5l1.8 -2.6l1.7 -6.4l1.7 2.6l1.8 4.2l1.7 1.9l2.9 .5l23.9 0l1.8 -2.1l1.7 -5.1l1.7 2.1l1.8 3.3l1.7 1.5l2.2 .4l70.6 .1l1.7 -.3l1.8 -11.7l1.7 -30.1l1.7 13.1l1.8 19.5l1.7 8.1l2.5 1.4l34.9 .1l1.8 -2.3l1.7 -6.2l3.5 7l1.7 1.4l40 .2l2.5 -.6l1.7 -14.5l3.5 -179.1l1.7 28.7l3.5 119.4l2.7 39l1.8 5.7l1.7 1.3l33 .2l1.8 -3l1.7 -9.7l3.4 11.2l1.8 -6.9l1.7 -27.5l3.5 32.4l1.7 3.4l45.8 .1l1.8 -20.8l1.7 -77.3l3.5 92l1.7 6.1l6.6 .2l1.8 -5.7l1.7 -21.6l3.5 25.8l1.7 1.5l111.4 .3l1.8 -.9l1.7 -4.3l1.7 3.4l1.8 1.7l75.5 .2l1.8 -2.1l1.7 -11.4l2.4 12l1.1 1.4l.6 .1l1.1 -1.9l.7 -7.4l1.7 -49.1l1.7 40.3l1.8 17.6l1.7 .6l1.7 -.9l3.5 -17.3l3.5 15.7l1.7 2.3l21.2 0l1.7 -12.1l.4 -6.3l.7 -261l.6 0l.7 257.3l1.1 10.4l1.7 10.5l1.8 1.4l1.7 .1l75.5 .1l1.8 -3l1.7 -15.8l1.7 13l1.8 5.7l28.7 .2l1.8 -2.4l1.7 -12.3l1.7 10.2l1.8 4.4l50.5 .2l1.8 -2.3l1.7 -12.5l1.7 10.2l1.8 4.5l14.1 .2l1.8 -3.8l1.7 -19.9l2.5 21.5l1 2l.7 .1l1 -1.3l.8 -7.8l1.7 -48.3l1.7 39.7l1.8 17.3l1.7 .5l21.8 .1l1.7 -2.3l1.3 -16.3l.7 -261.6l1.2 0l.7 257.8l1.3 12.6l1.8 8.8l1.7 1l14.7 0l1.8 -1.6l1.7 -8.4l1.7 6.9l1.8 3l48.7 .2l1.8 -2.7l1.7 -14.3l1.7 11.8l1.8 5.1l23.6 .2l1.8 -1.5l1.7 -7.7l1.7 6.4l1.8 2.7l21 .2l1.8 -2.5l1.7 -12.8l1.7 10.5l1.8 4.7l64.8 .1l1.8 -24.3l1.7 -127.5l1.7 104.8l1.8 45.7l1.7 1.5l39.4 0l1.8 -1.5l1.7 -7.8l1.7 6.5l1.8 2.8l10.4 .1l1.8 -5.2l1.7 -27l1.7 22.2l1.8 9.7l8.7 .3l1.8 -1.5l1.7 -8.1l1.7 6.6l1.8 2.9l9.5 .1l1.8 -1.5l1.7 -8.1l1.7 6.7l1.8 2.9l11.2 .1l1.7 -1.4l1.5 -17.2l.7 -262.3l1.6 0l.7 258.6l2.5 19.8l1.7 2.4l32.2 .2l1.8 -4.7l1.7 -24.8l1.7 20.3l1.8 8.9l9.5 .3l1.8 -5.3l1.7 -27.9l1.7 22.9l1.8 10l1.7 .3l59.9 .1l1.7 -5.9l3.5 -125l3.5 112.9l1.7 16.6l2.8 1.5l50.1 .1l1.8 -2.9l1.7 -15.3l1.7 12.6l1.8 5.5l1.7 .1l17.3 .1l1.8 -.9l1.7 -4.3l1.7 3.6l1.8 1.5l102.1 .3l1.7 -1.3l3.5 -15.1l1.7 5.5l1.8 7.7l1.7 2.8l2.8 .4l88.7 .2l1.5 -.2l1.7 -1.2l1.8 -2.6l1.7 -1.6l1.7 1.1l3.5 3.8l2 .6l55.7 .3"/>
<clipPath id="c6"><rect x="0" y="2186.8" width="2495" height="400"/></clipPath>
<path clip-path="url(#c6)" d="M196.5 2440.0l2.9 3.5l1.7 0l1.8 -14l1.7 -23.6l1.7 9.8l1.8 16.8l1.7 9.1l2.4 2.6l36.4 .2l1.8 -7.3l1.7 -17.7l1.7 7.2l1.8 11.4l1.7 5.4l1.1 1l1.7 .2l1.8 -2.5l1.7 -6.1l1.2 1.2l1.7 3.9l1.8 .7l1.7 -1.8l1.7 1l3.5 3.1l3.1 .7l227.9 1.6l1.7 -.1l1.8 -3.4l1.7 -8.2l1.7 3.3l1.8 5.4l1.7 2.5l1.8 .5l13.3 .1l1.8 -1.6l1.7 -3.9l1.7 1.6l1.8 2.5l1.7 1.2l13.8 .4l1.7 -1.7l1.8 -27.3l1.7 -46.3l1.7 10.7l3.5 45.6l2.5 15.3l1.8 3l1.7 .7l128.2 .4l1.7 -.3l3.5 -6.8l1.7 1.4l3.5 4.7l2.3 .9l17.3 .2l1.7 -.6l3.5 -12.6l1.7 2.5l1.8 5.1l1.7 3.7l1.9 1.6l3.5 .3l9.8 0l1.7 -2.1l3.5 -45.7l1.7 8.4l3.5 31l2.4 7.3l1.8 1l27.6 .2l1.7 -.9l3.5 -20.1l1.7 4.1l1.8 8l1.7 5.9l2 2.5l1.7 .5l179.5 .3l21 -41l1.7 34.5l1.8 6.5l13.5 -.1l1.6 -1.4l1.7 -7.4l2.7 -26.8l.8 -11.9l1.7 -68l1 -20.8l.8 15.3l2.7 93.5l1.7 23.4l2.7 4.2l43.4 .1l1.8 -4.6l1.7 -15.3l3.5 18l1.7 1.9l22.8 0l1.8 -6.4l1.7 -22.7l3.5 27l1.7 2.1l14.3 0l1.8 -12.1l1.7 -45l3.5 53.6l1.7 3.5l209.2 .4l1.8 -2.9l1.7 -15.1l2.4 16l1.1 1.9l.6 .1l1.1 -.9l.7 -3.8l1.7 -24.8l1.7 20.4l1.8 8.9l3.4 .2l1.8 -.6l1.7 -3.5l1.7 2.9l1.8 1.2l22.1 0l1.8 -25.5l1.7 -133.7l1.7 109.8l1.8 48l1.7 1.5l78 0l1.8 -1.1l1.7 -6.1l1.7 5l1.8 2.2l28.7 0l1.8 -1.1l1.7 -6.1l1.7 5l1.8 2.2l50.5 .1l1.8 -1.2l1.7 -6.1l1.7 5l1.8 2.2l54 .1l1.7 -3.8l1.1 -14.8l.7 -262.9l2.2 0l.7 259.2l2.3 19.1l1.7 3.1l68.7 .2l1.8 -1.2l1.7 -6.2l1.7 5.1l1.8 2.2l23.6 .1l1.8 -1.7l1.7 -8.7l1.7 7.2l1.8 3.1l92.8 0l1.8 -31.2l1.7 -163.4l1.7 134.3l1.8 58.6l1.7 1.8l39.4 0l1.8 -3.3l1.7 -17.3l1.7 14.3l1.8 6.2l10.4 .1l1.8 -8.9l1.7 -46.8l1.7 38.5l1.8 16.8l1.7 .5l23.5 0l1.8 -3.3l1.7 -17.4l1.7 14.3l1.8 6.2l12.9 .1l1.8 -8.4l.6 -10.1l.7 -263.1l1.6 0l.7 259.4l1.6 14.7l1.7 7l1.8 .6l30.4 0l1.8 -11.5l1.7 -60l1.7 49.3l1.8 21.6l1.7 .6l7.8 0l1.8 -7.9l1.7 -41.7l1.7 34.2l1.8 15l1.7 .4l33.5 .1l1.8 -.8l1.7 -3.8l1.7 3.1l1.8 1.4l20.2 -.1l1.7 -8.4l3.5 -179.6l3.5 162.1l1.7 23.9l2 2.1l48.4 .1l1.7 -1.4l3.5 -29.7l3.5 26.8l1.7 4l2.1 .3l15.2 0l1.8 -.7l1.7 -3.9l1.7 3.2l1.8 1.4l103 0l1.7 -2.3l3.5 -28.8l1.7 10.5l1.8 14.6l1.7 5.3l1.9 .8l88.7 0l1.5 -.2l1.7 -.9l1.8 -2.2l1.7 -1.4l1.7 .9l3.5 3.2l2 .6l55.7 .1"/>
<clipPath id="c7"><rect x="0" y="2539.8" width="2495" height="400"/></clipPath>
<path clip-path="url(#c7)" d="M196.7 2789.4l1.7 -4.4l2.5 6.5l1 1.3l.7 .1l1 -4.4l2.5 -53.7l3.5 49.9l1.7 8.1l2.6 .9l33 .6l1.7 -1.2l1.8 -41.8l1.7 -100.9l3.5 127.2l1.7 15.7l1.1 1l1.7 -2l1.8 -36.7l1.7 -61.9l1.7 14.3l3.5 61.1l2.5 20.6l1.8 3.9l1.7 .9l10.7 .3l3.5 -2.8l5.2 2.6l3.2 .5l208.8 3.3l1.7 -.7l1.8 -11.1l1.7 -18.8l1.7 6.5l1.8 12.3l1.7 8.3l1.8 2.9l1.7 .6l11.6 0l1.8 -3l1.7 -7.4l1.7 3l1.8 4.8l1.7 2.2l2.1 .5l1.8 -1.9l1.7 -4.6l1.7 1.9l1.8 2.9l1.7 1.4l3 .4l1.7 -2.1l1.8 -34.6l1.7 -58.6l1.7 20.2l1.8 38.4l1.7 25.6l2.5 10.2l1.8 .8l15.6 0l3.1 -5.5l1.7 -14.4l1.8 -22.7l1.7 -12.3l1.7 3.4l1.8 8.9l3.9 25.1l1.7 8l1.8 5l1.7 2.7l1.7 1.3l1.8 .5l3.5 .2l60.3 .2l1.7 -.8l3.5 -5.1l1.7 .8l3.5 3.5l2.3 1.2l3.5 .5l10.7 -.1l1.7 -1.5l3.5 -10.4l1.7 1.5l3.5 7.1l1.5 1.9l1.8 1.1l3.5 .5l10.4 0l3.3 -.5l3.5 -10.6l1.7 2.2l3.5 7.4l1.9 1.3l5.2 .3l8.7 -.3l1.7 -6.6l3.5 -82.1l1.7 13.1l3.5 54.8l1.8 14.5l1.8 5.1l1.7 1.3l7 .3l18.9 -.2l1.7 -6.2l3.5 -76.2l1.7 12.2l3.5 50.8l2 14.2l1.7 4.3l1.8 1l4 .2l1.8 -1.3l1.7 -3.1l1.7 1.3l1.8 2l1.7 .9l26.8 .2l1.8 -6.3l1.7 -15l1.7 6.1l1.8 9.7l1.7 4.6l2.2 1l134 .3l1.9 -2.4l1.7 -11.9l1.8 -26.1l1.7 -16.6l1.7 12.1l1.8 23.1l1.7 15.4l1.6 5.2l1.8 1.3l21.6 .2l1.8 -4.8l1.7 -14.5l3.5 16.6l1.7 2.5l77.6 .5l1.8 -4.3l1.7 -15.3l3.5 18.1l1.7 1.5l12.1 .1l1.8 -.4l1.7 -12.3l.4 -6.8l.8 -261.2l3.9 0l.7 257.3l2.9 19.3l1.7 3.6l3.5 .5l80.7 .3l1.8 -4.1l1.7 -18.6l1.7 13.9l1.8 8.3l1.7 .5l2.2 -1.9l1.7 -8.9l1.7 6.8l1.8 3.8l23.4 .3l1.8 -3.3l1.7 -16.8l1.7 13.4l1.8 6.5l75.5 .3l1.8 -3.7l1.7 -19.2l1.7 15.8l1.8 6.9l1.7 .1l2.4 -18.5l.7 -262.6l1.6 0l.7 258.9l1.4 13l1.7 8.4l1.8 -16.1l1.7 -89.1l1.7 73.2l1.8 32l1.7 .9l21.2 0l1.8 -23.1l1.7 -120.6l1.7 99.1l1.8 43.3l1.7 1.3l113.7 .1l1.8 -1l1.7 -5.1l1.7 4.2l1.8 1.8l71.6 .1l1.8 -5.3l1.7 -28l2.5 30.2l1 2.8l.7 .3l1 -1.4l.8 -8.1l1.7 -49.9l1.7 41l1.8 17.9l1.7 .5l22 -.1l1.8 -35.3l1.7 -185.1l1.7 152.1l1.8 66.4l1.7 2l71.9 .1l1.8 -.8l1.7 -4.4l1.7 3.6l1.8 1.5l23.6 .1l1.8 -1.2l1.7 -6l1.7 5l1.8 2.1l60.2 .1l1.8 -1l1.7 -5.2l1.7 4.3l1.8 1.9l25.6 -.1l1.8 -33.6l1.7 -176.2l1.7 144.8l1.8 63.2l1.7 1.9l39.4 0l1.8 -3.6l1.7 -18.8l1.7 15.5l1.8 6.8l10.4 .1l1.8 -7.9l1.7 -41.4l1.7 34l1.8 14.9l1.7 .5l23.5 0l1.8 -2.6l1.7 -13.7l1.7 11.2l1.8 4.9l12.9 .1l1.8 -8.4l.6 -10.1l.7 -262.9l1.6 0l.7 259.1l1.6 14.8l1.7 7l1.8 .6l30.4 0l1.8 -6.8l1.7 -35.6l1.7 29.2l1.8 12.8l1.7 .4l7.8 0l1.8 -5.1l1.7 -26.5l1.7 21.8l1.8 9.5l1.7 .3l33.5 0l1.8 -1l1.7 -5.3l1.7 4.4l1.8 1.9l19.4 -.1l1.7 -6.3l3.5 -135.2l3.5 122l1.7 18l2.8 1.6l50.1 .1l1.8 -3.3l1.7 -17.3l1.7 14.2l1.8 6.2l19 .2l1.8 -1l1.7 -5.4l1.7 4.4l1.8 1.9l103 0l1.7 -2.1l3.5 -26.6l1.7 9.7l1.8 13.5l1.7 4.9l1.9 .7l88.7 0l1.5 -.3l1.7 -1.8l1.8 -3.8l1.7 -2.5l1.7 1.7l3.5 5.6l2 1l55.7 .2"/>
<clipPath id="c8"><rect x="0" y="2892.8" width="2495" height="400"/></clipPath>
<path clip-path="url(#c8)" d="M196.5 3141.0l2.9 3.5l1.7 .2l1.8 -21.4l1.7 -51.6l3.5 62.5l1.7 10.1l2.4 1.1l34.7 .3l1.7 -.4l1.8 -17.4l1.7 -41.7l1.7 16.9l1.8 27.1l1.7 12.7l1.1 2.2l1.7 -.1l1.8 -13.2l1.7 -22.5l1.7 5.2l3.5 22.2l2.5 7.4l1.8 1.5l1.7 .3l114 1l1.7 -1.2l3.5 -8.8l1.7 1.3l3.5 6l2.6 2.3l3 .6l1.7 -.6l3.5 -4.5l1.7 .7l3.5 3.1l2.3 1.1l1.7 .3l87 .9l1.7 -.5l1.8 -9.4l1.7 -15.9l1.7 5.5l1.8 10.4l1.7 7l1.8 2.5l3.5 .6l9.8 0l1.8 -3.9l1.7 -9.4l1.7 3.8l1.8 6.1l1.7 2.9l2.1 .6l1.8 -1.9l1.7 -4.5l1.7 1.9l1.8 2.9l1.7 1.4l3 .3l1.7 -2.5l1.8 -43.3l1.7 -73.2l1.7 25.3l1.8 47.9l1.7 32l2.5 12.9l1.8 1l20.9 0l1.7 -1.2l1.8 -2.7l1.7 -1.7l1.7 .6l5.2 4.1l1.8 .7l3.4 .5l34.4 -.1l3.5 -4.8l1.7 1l3.5 3.3l2.2 .6l20.3 .1l1.7 -.8l3.5 -17.1l1.7 3.5l1.8 6.8l1.7 5l2.3 2.3l3.5 .4l11.6 -.3l3.5 -5.8l1.7 1.2l3.5 4l2.3 .8l17.3 .1l1.7 -.8l3.5 -17.2l1.7 3.5l1.8 6.9l1.7 5l1.9 2.1l3.5 .5l9.8 0l1.7 -1.9l3.5 -40.2l1.7 7.4l3.5 27.3l2.4 6.4l1.8 .9l1.7 .1l25.9 0l1.7 -3.2l3.5 -67.3l1.7 12.4l3.5 45.7l2 9.8l1.7 2.2l3.5 .5l37.8 -.1l1.8 -5l1.7 -11.8l1.7 4.8l1.8 7.7l1.7 3.6l2.2 .8l26.9 0l1.7 -.3l3.5 -5.9l1.7 1.2l3.5 4.1l2.7 .9l97.6 0l1.8 -3.2l1.7 -9.1l3.5 10.3l1.7 1.9l22.5 .2l2.7 -.7l1.7 -16.8l3.5 -207.8l1.7 40.3l3.5 146.8l2.6 33.8l1.7 3.8l1.7 .6l1.8 0l36.4 0l1.8 -4.8l1.7 -16.1l3.5 18.9l1.7 2l21.1 .1l1.7 -2.1l1.8 -33.8l1.7 -57.2l1.7 28.9l1.8 43.2l1.7 17.7l1.7 3l12.2 .3l1.7 -.4l2.1 -19.1l.7 -257.1l2.2 0l.7 253.2l3 19.5l1.7 3.5l3.3 .4l1.8 -1.1l1.7 -4.3l3.5 5.1l1.7 .3l73.3 .1l1.8 -1.5l1.7 -7l1.7 5.2l1.8 3.1l31.4 .2l1.8 -2.1l1.7 -10.5l1.7 8.4l1.8 4.1l75.5 .2l1.8 -2.4l1.7 -12.2l1.7 10l1.8 4.4l1.7 .2l2.3 -32.8l1.7 -171l1.7 140.5l1.1 53l.7 8.4l1 1.8l.7 -.3l1.1 -6.1l1.7 -33.8l1.7 27.8l1.8 12.1l1.7 .4l21.2 -.1l1.8 -17.5l1.7 -91.8l1.7 75.4l1.8 33l1.7 1l113.7 .1l1.8 -6.1l1.7 -31.7l1.7 26.1l1.8 11.3l1.7 .4l48.8 0l1.8 -1.5l1.7 -8.2l1.7 6.7l1.8 3l52.5 0l1.8 -20.2l1.7 -105.8l1.7 87l1.8 37.9l1.7 1.2l16.2 0l1.8 -.9l1.7 -4.9l1.7 4l1.8 1.8l79.3 0l1.8 -4l1.7 -21.2l1.7 17.4l1.8 7.6l92.8 .2l1.8 -30.4l1.7 -159.7l1.7 131.2l1.8 57.3l1.7 1.7l39.4 .1l1.8 -3.5l1.7 -18l1.7 14.8l1.8 6.5l10.4 .1l1.8 -12.9l1.7 -68.1l1.7 55.9l1.8 24.4l1.7 .8l23.5 0l1.8 -1.9l1.7 -10.1l1.7 8.3l1.8 3.6l12.9 0l1.8 -8.3l.6 -10.2l.7 -258.6l1.6 0l.7 254.9l1.6 14.7l1.7 7l1.8 .6l30.4 0l1.8 -5.9l1.7 -30.9l1.7 25.4l1.8 11.1l1.7 .4l7.8 -.1l1.8 -9.4l1.7 -49.3l1.7 40.5l1.8 17.7l1.7 .6l33.5 0l1.8 -1.3l1.7 -6.8l1.7 5.6l1.8 2.4l20.2 -.1l1.7 -8.7l3.5 -186.4l3.5 168.3l1.7 24.7l2 2.3l50.1 .1l1.8 -4.2l1.7 -21.7l1.7 17.8l1.8 7.8l19 .3l1.8 -1.6l1.7 -8.6l1.7 7l1.8 3.1l103 0l1.7 -3.4l3.5 -41.8l1.7 15.2l1.8 21.3l1.7 7.7l1.9 1.1l88.7 .1l1.5 -.6l1.7 -3l1.8 -6.6l1.7 -4.2l1.7 2.9l1.8 5.6l1.7 4l2 1.6l3.5 .4l52.2 0"/>
<clipPath id="c9"><rect x="0" y="3247.6" width="2495" height="400"/></clipPath>
<path clip-path="url(#c9)" d="M196.5 3500.0l2.9 3.3l1.7 -.1l1.8 -12.8l1.7 -21.6l1.7 9l1.8 15.4l1.7 8.4l2.4 2.3l34.7 .3l1.7 -.4l1.8 -17.8l1.7 -42.9l1.7 17.4l1.8 27.7l1.7 13.1l1.1 2.2l1.7 -.2l1.8 -15.2l1.7 -25.8l1.7 6l3.5 25.4l2.5 8.6l1.8 1.6l1.7 .4l278.2 1.5l1.7 -1.3l1.8 -20.4l1.7 -34.5l1.7 11.9l2.7 31.9l1.7 9.3l1.8 -3.8l1.7 -14.8l1.7 6.2l1.8 9.9l1.7 4.6l2.8 1.1l12.7 0l1.8 -1.7l1.7 -4.2l1.7 1.7l1.8 2.7l1.7 1.3l3 .3l128.6 .5l1.7 -.6l3.5 -13l1.7 2.6l1.8 5.3l1.7 3.8l1.9 1.6l3.5 .4l8.7 -.1l1.7 -1.4l1.8 -7.4l1.7 -21.9l2.7 -45.9l.7 -202.3l6.2 0l.7 199.5l1.9 4.5l1.7 7.9l5.3 32.9l3.4 17.8l1.8 6l1.7 4.2l1.8 2.7l1.7 1.7l1.7 1l5.3 .9l56.9 .3l1.8 -2l1.7 -5l1.7 2l1.8 3.2l1.7 1.6l2.2 .3l70.6 .3l1.7 -3l1.8 -50l1.7 -84.6l1.7 42.8l1.8 63.8l1.7 26.3l2.5 4.7l52.4 .3l1.7 -1.3l3.5 -27.3l1.7 6.5l1.8 11.9l1.7 7.4l1.6 2.3l3.5 .6l15.7 -.1l1.7 -1.3l1.7 -7.3l3 -29.1l.7 -242.4l5.6 0l.7 241.2l5.7 32.6l1.7 4.4l1.8 1.6l3.5 .5l32.9 .1l1.8 -9.7l1.7 -32.2l3.5 37.9l1.7 3.9l23.9 .3l1.8 -1.8l1.7 -6.4l3.5 7.6l1.7 .6l11.5 .1l1.7 -3.2l1.8 -53.9l1.7 -91l1.7 51.2l1.8 69.8l1.7 23.9l3 3.3l3.6 -.1l1.8 -12.7l1.7 -48.7l3.5 58.1l1.7 3.3l73.8 .4l1.8 -4l1.7 -18.7l1.7 14l1.8 7.2l1.7 -17.2l4.1 18.3l1.7 .5l23.1 .1l1.8 -12.6l1.7 -63.2l1.7 50.5l1.8 24.4l1.7 .9l73.8 .1l1.8 -4.8l1.7 -25.1l2.4 26.6l1.1 3.1l.6 .2l1.1 -1.9l.7 -7.4l1.7 -49l1.7 40.2l1.8 17.6l1.7 .5l1.7 -.8l3.5 -18.3l3.5 16.5l1.7 2.4l20.4 .1l1.8 -35.9l1.7 -188.4l1.7 154.8l1.8 67.6l1.7 2.1l78 0l1.8 -2.7l1.7 -14.4l1.7 11.8l1.8 5.1l7.8 .1l1.7 -1.4l3.5 -9.6l1.7 3l1.8 5l1.7 2.5l2 .6l8.5 0l1.8 -4.4l1.7 -23.3l1.7 19.1l1.8 8.4l50.5 .2l1.8 -3.8l1.7 -20l1.7 16.4l1.8 7.2l14.1 .2l1.8 -2.4l1.7 -12.7l2.5 13.8l1 1.2l1.7 -.3l.8 -2.3l1.7 -14.4l1.7 11.8l1.8 5.2l23.7 .1l1.8 -11.2l1.7 -58.7l1.7 48.3l1.8 21l1.7 .7l202.3 .1l1.8 -7.3l1.7 -38.2l1.7 31.4l1.8 13.7l1.7 .4l39.4 0l1.8 -1l1.7 -5.3l1.7 4.4l1.8 1.9l10.4 0l1.8 -7.6l1.7 -39.7l1.7 32.6l1.8 14.3l1.7 .4l23.5 0l1.8 -1.5l1.7 -7.8l1.7 6.4l1.8 2.9l12.9 0l1.8 -5.9l.8 -12.7l.7 -263.1l2 0l.7 259.4l2.7 20.6l1.8 1.7l30.4 0l1.8 -8.4l1.7 -44.2l1.7 36.3l1.8 15.9l1.7 .5l7.8 -.1l1.8 -11.8l1.7 -62.3l1.7 51.2l1.8 22.3l1.7 .7l33.5 0l1.8 -2.6l1.7 -13.8l1.7 11.3l1.8 4.9l20.4 .2l1.8 -.5l1.8 -18.1l.7 -263.2l1.6 0l.7 259.5l2.1 18.4l1.8 3.7l50.1 .2l1.7 -2.1l3.5 -45.3l3.5 40.9l1.7 6l2.1 .5l15.2 0l1.8 -1.5l1.7 -7.9l1.7 6.5l1.8 2.9l103 0l1.7 -3.6l3.5 -43.8l1.7 15.9l1.8 22.3l1.7 8.1l1.9 1.2l88.7 0l1.5 -.4l1.7 -2l1.8 -4.3l1.7 -2.8l1.7 1.9l1.8 3.7l1.7 2.6l2 1.2l55.7 .2"/>
<clipPath id="c10"><rect x="0" y="3598.0" width="2495" height="400"/></clipPath>
<path clip-path="url(#c10)" d="M197.1 3849.8l1.7 2.2l1.3 0l1.7 -43.1l1.8 -13.6l1.7 -29.9l3.5 79l1.7 8.7l1.7 .6l34.7 .3l1.7 -.2l1.8 -10.5l1.7 -25.4l1.7 10.3l1.8 16.4l1.7 7.8l1.1 1.3l1.7 -.1l1.8 -9.7l1.7 -16.4l1.7 5.7l1.8 10.7l1.7 7.2l2.5 2.9l1.8 .3l13.1 -.1l3.5 -4.2l1.7 .9l3.5 3l4.3 .6l207.8 2l1.7 0l1.8 -1.9l1.7 -4.6l1.7 1.9l1.8 3l1.7 1.4l2.7 .3l33.7 .3l1.7 -2.5l1.8 -41.6l1.7 -70.4l1.7 15.1l3.5 67.4l2.9 26.9l1.8 4.1l1.7 1l29.6 .5l128.6 .5l1.7 -.4l3.5 -7.5l1.7 1.5l3.5 5.3l1.9 .9l12.2 .3l2.3 -.3l1.7 -3.7l3.5 -24.6l1.7 3.3l3.5 15.9l3 7.6l1.7 1.3l1.7 .5l24.2 .1l1.7 -.8l3.5 -5.3l1.7 .8l3.5 3.6l2 1.2l1.7 .4l41.3 .2l1.8 -4.5l1.7 -10.8l1.7 4.4l1.8 7l1.7 3.3l2.2 .8l70.6 .3l1.7 -.2l1.8 -8.5l1.7 -21.7l1.7 9.4l1.8 14.1l1.7 5.8l2.5 1.1l52.4 .2l1.7 -.1l1.8 -10.4l1.7 -29.3l3.5 33.2l1.7 6l1.6 .6l78.2 .3l1.8 -6.6l1.7 -22l3.5 25.9l1.7 2.7l22.8 .2l1.8 -2.1l1.7 -7.3l3.5 8.7l1.7 .7l13.9 .1l1.7 -.8l1.9 -18.7l.7 -262l2 0l.7 258.1l3.4 20.8l1.7 2.4l3.6 .2l1.8 -5.7l1.7 -21.7l3.5 26l1.7 1.4l73.8 .4l1.8 -2.7l1.7 -12.2l1.7 9.2l1.8 5.4l1.7 -.7l2 -8.9l1.7 6.2l1.8 3.5l23.4 .3l1.8 -7.6l1.7 -38.3l1.7 30.6l1.8 14.8l1.7 .5l73.8 0l1.8 -4.1l1.7 -21.5l2.4 22.8l1.1 2.6l.6 .1l1.1 -5.6l.7 -22.6l1.7 -148l1.7 121.6l1.8 53.1l1.7 .2l2.1 -18.6l1.7 13.8l1.8 6.1l24.2 .1l1.8 -.4l1.9 -18.2l.7 -263.4l.6 0l.7 259.7l1.3 12.3l1.7 9l1.8 1l1.7 0l75.5 0l1.8 -2.4l1.7 -12.6l1.7 10.3l1.8 4.5l28.7 .1l1.8 -2.7l1.7 -14.2l1.7 11.7l1.8 5.1l50.5 .1l1.8 -1.9l1.7 -10l1.7 8.2l1.8 3.6l14.1 .1l1.8 -2.4l1.7 -12.5l2.5 13.5l1 1.2l.7 .2l1 -.5l.8 -2.4l1.7 -15l1.7 12.3l1.8 5.4l23.5 .2l1.7 -2.3l1.3 -16.3l.7 -263.3l1.6 0l.7 259.5l2.7 20.5l1.7 1.8l70.4 0l1.8 -1.9l1.7 -9.9l1.7 8.1l1.8 3.6l23.6 .1l1.8 -1.1l1.7 -5.7l1.7 4.7l1.8 2l92.8 -.1l1.8 -20.6l1.7 -108.1l1.7 88.8l1.8 38.8l1.7 1.2l39.4 0l1.8 -1.9l1.7 -9.7l1.7 8l1.8 3.5l10.4 .1l1.8 -3.7l1.7 -19l1.7 15.6l1.8 6.9l25.2 .1l1.8 -1.5l1.7 -8.1l1.7 6.7l1.8 2.9l12.9 0l1.8 -5.9l.8 -12.7l.7 -263l1.6 0l.7 259.3l1.4 13l1.7 8.4l1.8 .9l30.4 0l1.8 -8.9l1.7 -46.8l1.7 38.4l1.8 16.8l1.7 .5l7.8 0l1.8 -5.4l1.7 -28l1.7 23l1.8 10.1l1.7 .3l59.9 -.2l1.7 -7.3l3.5 -156.9l3.5 141.6l1.7 20.8l2.8 1.9l50.1 0l1.8 -4l1.7 -21l1.7 17.2l1.8 7.6l1.7 .2l17.3 0l1.8 -1.1l1.7 -5.4l1.7 4.5l1.8 1.9l103 -.1l1.7 -1.8l3.5 -23l1.7 8.4l1.8 11.6l1.7 4.3l1.9 .6l88.7 -.1l1.5 -.2l1.7 -1.4l1.8 -2.9l1.7 -1.8l1.7 1.3l3.5 4.2l2 .7l55.7 .1"/>
</g>
<g font-size="39.0" text-anchor="middle">
<text x="655.5" y="198.7">26</text>
<text x="756.3" y="165.7">34</text>
<text x="804.6" y="72.9">36</text>
<text x="1150.1" y="55.6">53</text>
<text x="1373.5" y="55.6">66</text>
<text x="1411.8" y="100.5">67</text>
<text x="1430.8" y="155.3">68</text>
<text x="1654.0" y="125.8">79</text>
<text x="1859.0" y="106.6">90</text>
<text x="1980.8" y="57.0">96</text>
<text x="2110.0" y="181.0">100</text>
<text x="268.2" y="561.4">6</text>
<text x="658.5" y="592.1">26</text>
<text x="1177.2" y="402.2">53</text>
<text x="1356.0" y="393.8">66</text>
<text x="1408.8" y="406.8">68</text>
<text x="1653.7" y="439.4">79</text>
<text x="1980.8" y="404.6">96</text>
<text x="2111.2" y="506.8">100</text>
<text x="1041.5" y="761.9">47</text>
<text x="1414.6" y="850.9">68</text>
<text x="1654.8" y="858.5">79</text>
<text x="1982.0" y="756.6">96</text>
<text x="2111.2" y="865.0">100</text>
<text x="475.8" y="1210.8">15</text>
<text x="729.5" y="1156.3">34</text>
<text x="1126.4" y="1184.7">51</text>
<text x="1863.9" y="1195.4">90</text>
<text x="1981.7" y="1112.5">96</text>
<text x="2108.9" y="1235.3">100</text>
<text x="246.0" y="1623.2">4</text>
<text x="559.1" y="1644.3">20</text>
<text x="1149.5" y="1519.7">53</text>
<text x="1398.4" y="1464.8">68</text>
<text x="1655.2" y="1467.9">79</text>
<text x="1863.9" y="1556.9">90</text>
<text x="1982.0" y="1465.5">96</text>
<text x="2093.2" y="1499.9">100</text>
<text x="213.6" y="1891.8">1</text>
<text x="248.7" y="1875.3">4</text>
<text x="271.7" y="1939.0">6</text>
<text x="559.1" y="1821.6">20</text>
<text x="730.5" y="1861.1">34</text>
<text x="804.6" y="1903.3">36</text>
<text x="1038.7" y="1871.5">47</text>
<text x="1147.5" y="1967.4">53</text>
<text x="1405.9" y="1815.1">68</text>
<text x="1651.8" y="1815.1">79</text>
<text x="1865.8" y="1919.8">90</text>
<text x="1980.8" y="1816.5">96</text>
<text x="2107.1" y="1943.8">100</text>
<text x="561.1" y="2347.2">20</text>
<text x="1042.8" y="2289.0">47</text>
<text x="1414.2" y="2264.0">68</text>
<text x="1655.2" y="2168.1">79</text>
<text x="1863.9" y="2235.2">90</text>
<text x="1982.0" y="2171.5">96</text>
<text x="2110.2" y="2241.0">100</text>
<text x="247.6" y="2623.5">4</text>
<text x="557.2" y="2674.5">20</text>
<text x="601.0" y="2720.6">24</text>
<text x="754.9" y="2677.2">33</text>
<text x="811.3" y="2693.7">36</text>
<text x="1178.2" y="2528.0">53</text>
<text x="1374.2" y="2523.0">66</text>
<text x="1411.7" y="2633.5">68</text>
<text x="1654.8" y="2562.2">79</text>
<text x="1863.9" y="2567.1">90</text>
<text x="1980.8" y="2522.5">96</text>
<text x="2108.9" y="2630.8">100</text>
<text x="559.5" y="3004.5">20</text>
<text x="802.4" y="3052.5">36</text>
<text x="1036.3" y="2901.0">47</text>
<text x="1113.5" y="3032.5">51</text>
<text x="1176.8" y="2876.0">53</text>
<text x="1374.8" y="2920.1">66</text>
<text x="1415.0" y="3010.3">68</text>
<text x="1655.2" y="2991.1">79</text>
<text x="1864.8" y="2934.3">90</text>
<text x="1983.0" y="2874.6">96</text>
<text x="2075.9" y="2936.7">100</text>
<text x="798.5" y="3270.5">34</text>
<text x="940.4" y="3339.5">41</text>
<text x="1036.3" y="3229.0">47</text>
<text x="1146.5" y="3336.4">53</text>
<text x="1283.2" y="3404.7">63</text>
<text x="1413.5" y="3267.4">68</text>
<text x="1980.3" y="3226.4">96</text>
<text x="2087.6" y="3227.6">100</text>
<text x="559.1" y="3716.3">20</text>
<text x="1176.6" y="3585.1">53</text>
<text x="1372.8" y="3658.7">66</text>
<text x="1398.4" y="3576.3">68</text>
<text x="1654.8" y="3576.3">79</text>
<text x="1864.8" y="3700.2">90</text>
<text x="1980.8" y="3577.3">96</text>
<text x="2087.1" y="3676.6">100</text>
</g>
<g font-size="47.0">
<text transform="translate(2121.9 113.6) scale(1 1.04)">&#39;Fugui Mantang&#39;</text>
<text transform="translate(2160.3 468.3) scale(1 1.04)">&#39;Wujin Yaohui&#39;</text>
<text transform="translate(2309.1 820.3) scale(1 1.04)">&#39;Caihui&#39;</text>
<text transform="translate(2070.2 1174.5) scale(1 1.04)">&#39;Baiyuan Zhenghui&#39;</text>
<text transform="translate(2303.7 1526.3) scale(1 1.04)">&#39;Erqiao&#39;</text>
<text transform="translate(2305.8 1879.3) scale(1 1.04)">&#39;Jingyu&#39;</text>
<text transform="translate(2211.6 2233.5) scale(1 1.04)">&#39;Lan Baoshi&#39;</text>
<text transform="translate(2179.7 2586.5) scale(1 1.04)">&#39;Hong Baoshi&#39;</text>
<text transform="translate(2120.6 2933.3) scale(1 1.04)">&#39;Taohong Feicui&#39;</text>
<text transform="translate(2264.5 3292.5) scale(1 1.04)">&#39;Zhaofen&#39;</text>
<text transform="translate(2132.2 3645.5) scale(1 1.04)">&#39;Manjiang Hong&#39;</text>
</g>
<path d="M1400 113 L1391 168" stroke="#000" stroke-width="2.2" fill="none"/><path d="M1383.5 165 L1397.5 167 L1389.5 179.5 Z" fill="#000"/>
<text transform="translate(1033.2 4008.1) scale(1 1.04)" font-size="67">Retention time (min)</text>
<text transform="translate(89.2 2326.9) rotate(-90) scale(1 1.04)" font-size="67">Relative abundance (%)</text>
</svg></body></html>
